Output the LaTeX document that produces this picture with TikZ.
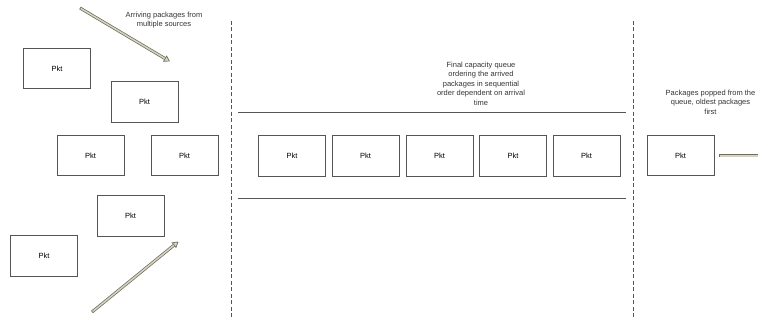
\documentclass[tikz,border=0pt]{standalone}
\usepackage{fontspec}
\setmainfont{Liberation Sans}
\usetikzlibrary{arrows.meta}
\definecolor{edge}{RGB}{85,85,85}
\definecolor{shaftout}{RGB}{110,110,100}
\definecolor{shaftin}{RGB}{215,212,190}
\tikzset{
  pkt/.style={draw=edge, line width=0.8pt, minimum width=67pt, minimum height=40.5pt, inner sep=0pt, font=\fontsize{7.5}{9}\selectfont},
  divider/.style={draw=edge, line width=0.8pt, dash pattern=on 4pt off 2.5pt},
  rail/.style={draw=edge, line width=0.8pt},
  note/.style={align=center, inner sep=0pt, font=\fontsize{7.5}{9.5}\selectfont, text=black!80},
  flowout/.style={draw=shaftout, line width=3pt, -{Triangle[length=6pt,width=7pt,line width=0.7pt,fill=shaftin]}},
  flowin/.style={draw=shaftin, line width=1.5pt},
}
\begin{document}
\begin{tikzpicture}[x=1pt,y=-1pt]
\useasboundingbox (0,0) rectangle (758,320);
% arriving packets
\node[pkt] (b1) at (57,68.5) {Pkt};
\node[pkt] (b2) at (144.5,102) {Pkt};
\node[pkt] (b3) at (90.5,155.5) {Pkt};
\node[pkt] (b4) at (184.5,155.5) {Pkt};
\node[pkt] (b5) at (130.5,216) {Pkt};
\node[pkt] (b6) at (44,256) {Pkt};
% queue
\node[pkt] (q1) at (292,156) {Pkt};
\node[pkt] (q2) at (365.5,156) {Pkt};
\node[pkt] (q3) at (439.5,156) {Pkt};
\node[pkt] (q4) at (513,156) {Pkt};
\node[pkt] (q5) at (586.5,156) {Pkt};
% popped
\node[pkt] (p1) at (680.5,155.5) {Pkt};
% dividers
\coordinate (d1t) at (231,21);
\coordinate (d1b) at (231,320);
\coordinate (d2t) at (633,21);
\coordinate (d2b) at (633,320);
\draw[divider] (d1t) -- (d1b);
\draw[divider] (d2t) -- (d2b);
% queue rails
\coordinate (r1a) at (238,112.5);
\coordinate (r1b) at (626,112.5);
\coordinate (r2a) at (238,198.5);
\coordinate (r2b) at (626,198.5);
\draw[rail] (r1a) -- (r1b);
\draw[rail] (r2a) -- (r2b);
% arrows
\coordinate (a1s) at (80,8);
\coordinate (a1e) at (170,61.5);
\coordinate (a2s) at (92,312);
\coordinate (a2e) at (178.5,241.5);
\draw[flowout] (a1s) -- (a1e);
\draw[flowin, shorten >=6pt, shorten <=0.8pt] (a1s) -- (a1e);
\draw[flowout] (a2s) -- (a2e);
\draw[flowin, shorten >=6pt, shorten <=0.8pt] (a2s) -- (a2e);
\coordinate (oe) at (762,156);
\draw[draw=shaftout, line width=3pt] (p1.east) ++(5,0.5) -- (oe);
\draw[draw=shaftin, line width=1.5pt] (p1.east) ++(5.8,0.5) -- (oe);
% notes
\node[note] (n1) at (164,20) {Arriving packages from\\multiple sources};
\node[note] (n2) at (481,83.5) {Final capacity queue\\ordering the arrived\\packages in sequential\\order dependent on arrival\\time};
\node[note] (n3) at (710.5,102) {Packages popped from the\\queue, oldest packages\\first};
\end{tikzpicture}
\end{document}
